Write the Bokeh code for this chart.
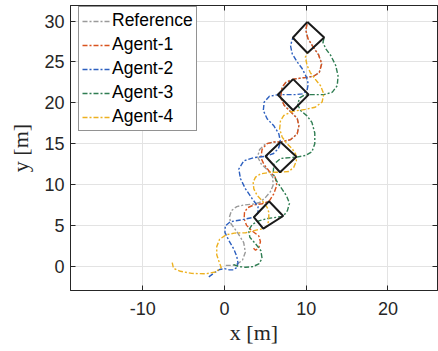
from bokeh.plotting import figure
from bokeh.models import Range1d, FixedTicker, Legend, LegendItem, LinearAxis, PrintfTickFormatter
from bokeh.embed import file_html
from bokeh.resources import INLINE

# ---- data ----
ref_x = [0.15, 1.0, 1.6, 2.2, 2.55, 2.35, 1.6, 0.8, 0.6, 0.85, 1.5, 2.4, 3.5, 4.3, 5.0, 5.6, 5.95, 5.9, 5.35, 4.5, 4.05, 4.3, 5.0, 6.0, 6.85, 8.1, 8.9, 9.1, 8.9, 8.1, 7.3, 6.85, 7.06, 7.5, 8.45, 9.9, 10.9, 11.6, 11.9, 11.5, 10.8, 10.2, 9.95, 10.15]
ref_y = [0.1, 0.1, 0.3, 0.75, 1.7, 2.9, 4.1, 5.2, 6.0, 6.8, 7.3, 7.5, 7.6, 7.8, 8.4, 9.1, 9.9, 10.9, 11.7, 12.5, 13.4, 14.3, 14.95, 15.2, 15.2, 15.5, 16.2, 17.2, 18.1, 18.9, 19.7, 20.7, 21.9, 22.5, 22.9, 23.1, 23.25, 23.7, 24.8, 25.9, 26.9, 27.9, 28.9, 29.9]

a1_x = [3.55, 3.8, 4.2, 4.4, 4.2, 3.4, 2.7, 2.4, 2.45, 2.8, 3.6, 4.6, 5.45, 6.03, 6.4, 6.2, 5.42, 4.81, 4.45, 4.6, 5.2, 6.0, 6.85, 8.1, 8.9, 9.1, 8.9, 8.1, 7.3, 6.85, 7.06, 7.5, 8.45, 9.9, 10.9, 11.6, 11.9, 11.5, 10.8, 10.2, 9.95, 10.15]
a1_y = [2.2, 1.95, 2.3, 3.0, 3.7, 4.3, 5.0, 5.8, 6.6, 7.15, 7.5, 7.65, 7.95, 8.86, 9.9, 10.9, 11.7, 12.5, 13.3, 14.3, 15.0, 15.2, 15.2, 15.5, 16.2, 17.2, 18.1, 18.9, 19.7, 20.7, 21.9, 22.5, 22.9, 23.1, 23.25, 23.7, 24.8, 25.9, 26.9, 27.9, 28.9, 29.9]

a2_x = [-1.92, -1.3, -0.6, 0.0, 0.6, 1.1, 1.5, 1.65, 1.5, 1.14, 0.53, 0.05, 0.1, 0.73, 2.2, 3.59, 4.1, 4.1, 3.4, 2.57, 1.96, 1.75, 2.36, 3.59, 5.02, 6.0, 6.6, 6.85, 6.65, 6.03, 5.22, 4.75, 4.85, 5.5, 6.57, 7.5, 8.7, 9.5, 10.1, 10.25, 10.05, 9.5, 8.9, 8.29, 8.08, 8.36]
a2_y = [-1.3, -0.85, -0.4, -0.3, -0.45, -0.45, -0.15, 0.4, 1.2, 2.1, 3.15, 4.15, 4.95, 5.45, 5.7, 6.0, 6.5, 7.3, 8.25, 9.47, 10.7, 11.9, 12.9, 13.3, 13.45, 13.8, 14.4, 15.2, 16.2, 17.2, 18.04, 19.06, 20.07, 20.8, 21.0, 21.0, 21.0, 21.1, 21.5, 22.3, 23.1, 24.2, 25.0, 26.0, 27.0, 27.96]

a3_x = [1.1, 1.8, 2.57, 3.5, 4.2, 4.6, 4.45, 3.8, 3.1, 2.95, 3.4, 4.2, 5.3, 7.18, 7.7, 7.95, 7.6, 7.0, 6.4, 5.95, 6.05, 6.9, 8.8, 9.9, 10.7, 11.05, 11.05, 10.7, 10.1, 9.3, 8.95, 9.2, 9.8, 10.5, 12.15, 13.2, 13.8, 13.9, 13.6, 13.0, 12.4, 12.05, 12.2]
a3_y = [0.2, -0.05, -0.12, -0.05, 0.3, 0.95, 1.9, 2.75, 3.55, 4.4, 5.1, 5.55, 5.85, 6.1, 6.8, 7.7, 8.6, 9.5, 10.4, 11.3, 12.5, 13.2, 13.35, 13.55, 14.0, 15.0, 16.3, 17.6, 18.4, 19.06, 19.8, 20.6, 20.95, 21.0, 21.0, 21.3, 22.1, 23.3, 24.6, 25.8, 26.6, 27.4, 28.0]

a4_x = [-6.4, -6.25, -5.4, -4.0, -2.3, -1.1, -0.4, -0.65, -0.95, -0.95, -0.6, 0.2, 1.2, 2.6, 4.0, 4.75, 5.2, 5.42, 5.42, 5.22, 4.6, 4.0, 3.59, 3.5, 3.8, 4.4, 5.63, 6.8, 7.87, 8.48, 8.8, 8.7, 8.29, 7.67, 7.06, 6.75, 6.85, 7.26, 8.29, 9.9, 11.1, 11.95, 12.15, 11.75, 11.1, 10.5, 10.1, 9.9, 10.15]
a4_y = [0.45, -0.25, -0.62, -0.88, -0.93, -0.7, -0.15, 0.5, 1.4, 2.4, 3.3, 3.85, 4.05, 4.1, 4.45, 4.6, 4.9, 5.6, 6.6, 7.2, 8.04, 8.65, 9.47, 10.3, 10.9, 11.3, 11.5, 11.5, 11.6, 12.1, 12.9, 13.76, 14.37, 14.98, 15.8, 16.8, 17.8, 18.45, 18.95, 19.2, 19.46, 20.1, 21.1, 22.1, 22.9, 23.7, 24.6, 25.6, 26.1]

# formation snapshots (top, right, bottom, left, back to top)
f1_x = [5.45, 7.18, 4.75, 3.59, 5.45]
f1_y = [7.95, 6.15, 4.6, 6.0, 7.95]
f2_x = [6.85, 8.8, 6.8, 5.02, 6.85]
f2_y = [15.2, 13.4, 11.5, 13.46, 15.2]
f3_x = [8.4, 10.3, 8.4, 6.52, 8.4]
f3_y = [22.9, 21.0, 19.1, 20.98, 22.9]
f4_x = [10.15, 12.2, 10.15, 8.36, 10.15]
f4_y = [29.9, 28.0, 26.1, 27.96, 29.9]

series_names = ["Reference", "Agent-1", "Agent-2", "Agent-3", "Agent-4"]
series_colors = ["#9a9a9a", "#d9531e", "#2c5fbf", "#2f7d52", "#edb120"]
x_ticks = [-10, 0, 10, 20]
y_ticks = [0, 5, 10, 15, 20, 25, 30]
x_label = "x [m]"
y_label = "y [m]"

TXT = "#262626"

p = figure(width=438, height=351,
           x_range=Range1d(-18.85, 26.07), y_range=Range1d(-2.97, 31.91),
           output_backend="svg", toolbar_location=None,
           min_border_left=70, min_border_right=1, min_border_top=5, min_border_bottom=61)
p.background_fill_color = "white"
p.border_fill_color = "white"
p.outline_line_color = TXT
p.outline_line_width = 1
p.outline_line_alpha = 1

p.xaxis.ticker = FixedTicker(ticks=x_ticks)
p.yaxis.ticker = FixedTicker(ticks=y_ticks)
for ax in (p.xaxis, p.yaxis):
    ax.formatter = PrintfTickFormatter(format="%d")
    ax.axis_line_color = TXT
    ax.major_tick_line_color = TXT
    ax.major_tick_in = 5
    ax.major_tick_out = 0
    ax.minor_tick_line_color = None
    ax.major_label_text_font = "Liberation Sans"
    ax.major_label_text_font_size = "18px"
    ax.major_label_text_color = TXT
    ax.axis_label_text_font = "Liberation Serif"
    ax.axis_label_text_font_size = "22px"
    ax.axis_label_text_font_style = "normal"
    ax.axis_label_text_color = TXT
p.xaxis.major_label_standoff = 11
p.yaxis.major_label_standoff = 6
p.xaxis.axis_label = x_label
p.yaxis.axis_label = y_label
p.xaxis.axis_label_standoff = 2
p.yaxis.axis_label_standoff = 8

# box ticks on the top and right edges (no labels)
for side, tk in (("above", x_ticks), ("right", y_ticks)):
    ax2 = LinearAxis(ticker=FixedTicker(ticks=tk), major_tick_in=5, major_tick_out=0,
                     minor_tick_line_color=None, axis_line_color=TXT,
                     major_tick_line_color=TXT, major_label_standoff=0,
                     major_label_text_font_size="1px",
                     major_label_overrides={t: "" for t in tk})
    p.add_layout(ax2, side)

for g in (p.xgrid, p.ygrid):
    g.grid_line_color = "#e3e3e3"
    g.grid_line_width = 1

xs = [ref_x, a1_x, a2_x, a3_x, a4_x]
ys = [ref_y, a1_y, a2_y, a3_y, a4_y]
items = []
for name, col, sx, sy in zip(series_names, series_colors, xs, ys):
    r = p.line(sx, sy, line_color=col, line_width=1.4, line_dash="5 2 2 2")
    items.append(LegendItem(label=name, renderers=[r]))

for fx, fy in ((f1_x, f1_y), (f2_x, f2_y), (f3_x, f3_y), (f4_x, f4_y)):
    p.line(fx, fy, line_color="#1a1a1a", line_width=2)

leg = Legend(items=items, location=(8, 159))
leg.label_text_font = "Liberation Sans"
leg.label_text_font_size = "17.5px"
leg.label_text_color = "#000000"
leg.glyph_width = 28
leg.glyph_height = 20
leg.label_height = 20
leg.label_standoff = 2
leg.spacing = 3
leg.padding = 3
leg.margin = 0
leg.border_line_color = TXT
leg.border_line_width = 1
leg.background_fill_alpha = 1
p.add_layout(leg, "center")

open("out.html", "w").write(file_html(p, INLINE))
